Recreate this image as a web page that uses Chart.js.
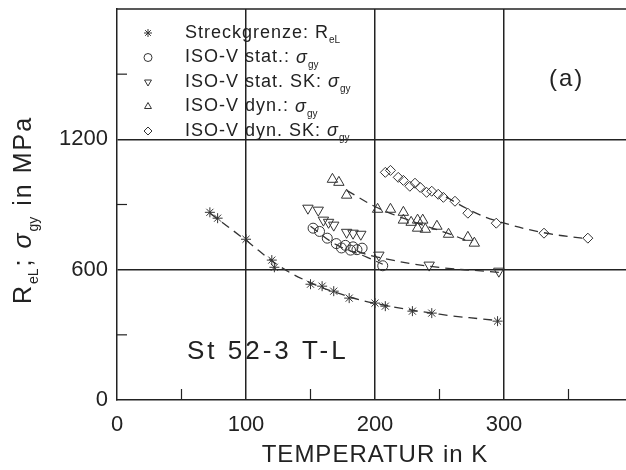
<!DOCTYPE html>
<html>
<head>
<meta charset="utf-8">
<script src="https://cdn.jsdelivr.net/npm/chart.js@4/dist/chart.umd.min.js"></script>
<style>
html,body{margin:0;padding:0;background:#fff;overflow:hidden;}
#wrap{width:640px;height:470px;position:relative;}
</style>
</head>
<body>
<div id="wrap"><canvas id="c" width="640" height="470"></canvas></div>
<script>
// ---- data ----
const tempStreck = [72, 78, 100, 120, 122, 150, 159, 168, 180, 200, 208, 229, 244, 295];
const relStreck  = [864, 837, 740, 644, 611, 533, 524, 501, 469, 446, 432, 409, 400, 363];

const tempStat = [152, 157, 163, 170, 174, 177, 181, 183, 186, 190, 206];
const sigStat  = [791, 776, 745, 720, 700, 712, 690, 705, 692, 699, 618];

const tempStatSK = [148, 156, 160, 164, 168, 178, 183, 189, 203, 242, 296];
const sigStatSK  = [883, 874, 828, 818, 805, 772, 768, 763, 667, 621, 593];

const tempDyn = [167, 172, 178, 202, 212, 222, 222, 228, 233, 237, 233, 239, 248, 257, 272, 277];
const sigDyn  = [1016, 1002, 943, 878, 878, 864, 828, 818, 828, 828, 791, 786, 800, 763, 749, 722];

const tempDynSK = [208, 212, 218, 222, 227, 231, 235, 240, 244, 249, 253, 262, 272, 294, 331, 365];
const sigDynSK  = [1048, 1057, 1025, 1011, 984, 998, 979, 956, 961, 947, 933, 915, 860, 814, 768, 745];

// fitted (dashed) curves as drawn in the reference
const fitStreckT = [72, 100, 125, 150, 175, 200, 250, 296];
const fitStreckS = [860, 735, 620, 540, 485, 445, 395, 365];
const fitStatT = [150, 170, 194, 206];
const fitStatS = [800, 715, 657, 625];
const fitStatSKT = [186, 200, 243, 296];
const fitStatSKS = [685, 660, 615, 588];
const fitDynT = [178, 202, 230, 256, 275];
const fitDynS = [965, 885, 820, 768, 725];
const fitDynSKT = [255, 275, 294, 331, 365];
const fitDynSKS = [935, 870, 825, 770, 742];

const xTickLabels = [0, 100, 200, 300];
const yTickLabels = [0, 600, 1200];

const legendLabels = [
  ['Streckgrenze: R', 'eL'],
  ['ISO-V stat.: ', 'σ', 'gy'],
  ['ISO-V stat. SK: ', 'σ', 'gy'],
  ['ISO-V dyn.: ', 'σ', 'gy'],
  ['ISO-V dyn. SK: ', 'σ', 'gy']
];

const INK = '#222';
const FONT = '"Liberation Sans", Arial, sans-serif';

function pts(xs, ys){ return xs.map((x,i)=>({x:x, y:ys[i]})); }

const markerDefs = [
  {style:'star', rot:0, r:5},
  {style:'circle', rot:0, r:5},
  {style:'triangle', rot:180, r:6},
  {style:'triangle', rot:0, r:6},
  {style:'rectRot', rot:0, r:5}
];

function scatterDS(data, m){
  return {type:'scatter', data:data, showLine:false, pointStyle:m.style, rotation:m.rot,
    pointRadius:m.r, pointBorderColor:'#333', pointBackgroundColor:'rgba(255,255,255,0)',
    pointBorderWidth:1, borderColor:'#333', backgroundColor:'rgba(0,0,0,0)', order:1};
}
function fitDS(data){
  return {type:'line', data:data, borderColor:'#333', borderWidth:1.3, borderDash:[9,6],
    pointRadius:0, tension:0.4, fill:false, order:2};
}

function drawRich(ctx, parts, x, y, size, spacing){
  let cx = x;
  parts.forEach(p=>{
    const fs = p.sub ? Math.round(size*0.55) : size;
    ctx.font = (p.it ? 'italic ' : '') + fs + 'px ' + FONT;
    ctx.letterSpacing = (p.sub ? 0 : spacing) + 'px';
    const dy = p.sub ? size*0.42 : 0;
    ctx.fillText(p.t, cx, y + dy);
    cx += ctx.measureText(p.t).width + (p.sub ? 2 : 0);
  });
  ctx.letterSpacing = '0px';
  return cx - x;
}
function measureRich(ctx, parts, size, spacing){
  let w = 0;
  parts.forEach(p=>{
    const fs = p.sub ? Math.round(size*0.55) : size;
    ctx.font = (p.it ? 'italic ' : '') + fs + 'px ' + FONT;
    ctx.letterSpacing = (p.sub ? 0 : spacing) + 'px';
    w += ctx.measureText(p.t).width + (p.sub ? 2 : 0);
  });
  ctx.letterSpacing = '0px';
  return w;
}

const decor = {
  id:'decor',
  afterDraw(chart){
    const ctx = chart.ctx, a = chart.chartArea;
    const xs = chart.scales.x, ys = chart.scales.y;
    ctx.save();
    ctx.strokeStyle = INK; ctx.lineWidth = 1.5;
    // top border
    ctx.beginPath(); ctx.moveTo(a.left, a.top); ctx.lineTo(a.right, a.top); ctx.stroke();
    // inward minor ticks
    ctx.lineWidth = 1.2;
    [300, 900, 1500].forEach(v=>{
      const y = ys.getPixelForValue(v);
      ctx.beginPath(); ctx.moveTo(a.left, y); ctx.lineTo(a.left+10, y); ctx.stroke();
    });
    [50, 150, 250, 350].forEach(v=>{
      const x = xs.getPixelForValue(v);
      ctx.beginPath(); ctx.moveTo(x, a.bottom); ctx.lineTo(x, a.bottom-11); ctx.stroke();
    });
    ctx.textBaseline = 'middle'; ctx.textAlign = 'left';
    // legend
    legendLabels.forEach((lab, i)=>{
      const y = 33 + i*24.5;
      const m = markerDefs[i];
      ctx.fillStyle = 'rgba(0,0,0,0)';
      ctx.strokeStyle = '#333'; ctx.lineWidth = 1;
      Chart.helpers.drawPoint(ctx, {pointStyle:m.style, rotation:m.rot, radius:4, borderWidth:1}, 148, y);
      ctx.fillStyle = INK;
      const parts = lab.length === 2
        ? [{t:lab[0]}, {t:lab[1], sub:true}]
        : [{t:lab[0]}, {t:lab[1], it:true}, {t:lab[2], sub:true}];
      drawRich(ctx, parts, 185, y, 18, 1);
    });
    ctx.fillStyle = INK;
    ctx.strokeStyle = INK;
    // (a)
    ctx.font = '24px ' + FONT; ctx.letterSpacing = '2px';
    ctx.fillText('(a)', 549, 79);
    // material label
    ctx.font = '26px ' + FONT; ctx.letterSpacing = '3px';
    ctx.fillText('St 52-3 T-L', 187, 352);
    ctx.letterSpacing = '0px';
    // x title
    ctx.font = '24px ' + FONT; ctx.letterSpacing = '1px';
    ctx.textAlign = 'center';
    ctx.fillText('TEMPERATUR in K', 375, 455);
    ctx.letterSpacing = '0px';
    ctx.textAlign = 'left';
    // y title
    const yParts = [{t:'R'}, {t:'eL', sub:true}, {t:'; '}, {t:'σ', it:true}, {t:'gy', sub:true}, {t:' in MPa'}];
    ctx.translate(24, 210); ctx.rotate(-Math.PI/2);
    const w = measureRich(ctx, yParts, 25, 2);
    drawRich(ctx, yParts, -w/2, 0, 25, 2);
    ctx.restore();
  }
};

new Chart(document.getElementById('c'), {
  data:{
    datasets:[
      scatterDS(pts(tempStreck, relStreck), markerDefs[0]),
      scatterDS(pts(tempStat, sigStat), markerDefs[1]),
      scatterDS(pts(tempStatSK, sigStatSK), markerDefs[2]),
      scatterDS(pts(tempDyn, sigDyn), markerDefs[3]),
      scatterDS(pts(tempDynSK, sigDynSK), markerDefs[4]),
      fitDS(pts(fitStreckT, fitStreckS)),
      fitDS(pts(fitStatT, fitStatS)),
      fitDS(pts(fitStatSKT, fitStatSKS)),
      fitDS(pts(fitDynT, fitDynS)),
      fitDS(pts(fitDynSKT, fitDynSKS))
    ]
  },
  options:{
    responsive:false, animation:false, devicePixelRatio:1,
    layout:{padding:{left:0, top:9, right:7, bottom:0}},
    plugins:{legend:{display:false}, tooltip:{enabled:false}},
    scales:{
      x:{type:'linear', min:0, max:400,
        afterFit(s){ s.height = 70; s.paddingLeft = 0; s.paddingRight = 0; },
        border:{display:true, color:INK, width:1.5},
        grid:{drawTicks:false, lineWidth:1.5,
          color:c => (c.tick && c.tick.value % 100 === 0 && c.tick.value > 0 && c.tick.value < 400) ? INK : 'rgba(0,0,0,0)'},
        ticks:{stepSize:100, padding:12, color:INK, font:{family:FONT, size:22},
          callback:v => xTickLabels.includes(v) ? String(v) : ''}
      },
      y:{type:'linear', min:0, max:1800,
        afterFit(s){ s.width = 117; s.paddingTop = 0; s.paddingBottom = 0; },
        border:{display:true, color:INK, width:1.5},
        grid:{drawTicks:false, lineWidth:1.5,
          color:c => (c.tick && c.tick.value % 600 === 0 && c.tick.value > 0 && c.tick.value < 1800) ? INK : 'rgba(0,0,0,0)'},
        ticks:{stepSize:600, padding:9, color:INK, font:{family:FONT, size:22},
          callback:v => yTickLabels.includes(v) ? String(v) : ''}
      }
    }
  },
  plugins:[decor]
});
</script>
</body>
</html>
